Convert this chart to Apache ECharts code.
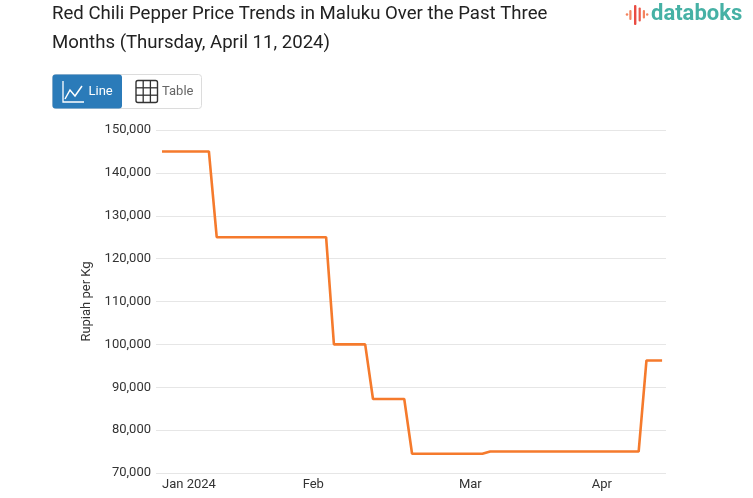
<!DOCTYPE html>
<html>
<head>
<meta charset="utf-8">
<script src="https://cdn.jsdelivr.net/npm/echarts@6/dist/echarts.min.js"></script>
<style>
html,body{margin:0;padding:0;background:#fff;}
#chart{width:753px;height:498px;}
</style>
</head>
<body>
<div id="chart"></div>
<script>
// ---- Data ----
const dates = [
  '2024-01-02','2024-01-03','2024-01-04','2024-01-05','2024-01-08','2024-01-09','2024-01-10','2024-01-12','2024-01-15','2024-01-16',
  '2024-01-17','2024-01-18','2024-01-19','2024-01-22','2024-01-23','2024-01-25','2024-01-26','2024-01-29',
  '2024-02-01','2024-02-02','2024-02-05','2024-02-06','2024-02-07','2024-02-08','2024-02-09','2024-02-12','2024-02-13','2024-02-15',
  '2024-02-16','2024-02-19','2024-02-20','2024-02-21','2024-02-22','2024-02-23','2024-02-26','2024-02-27','2024-02-28','2024-02-29',
  '2024-03-01','2024-03-04','2024-03-05','2024-03-06','2024-03-07','2024-03-08','2024-03-13','2024-03-14','2024-03-15','2024-03-18',
  '2024-03-19','2024-03-20','2024-03-21','2024-03-22','2024-03-25','2024-03-26','2024-03-27',
  '2024-04-01','2024-04-02','2024-04-03','2024-04-04','2024-04-05','2024-04-06','2024-04-07','2024-04-08','2024-04-10','2024-04-11'
];
const prices = [
  145000,145000,145000,145000,145000,145000,145000,
  125000,125000,125000,125000,125000,125000,125000,125000,125000,125000,125000,125000,125000,125000,125000,
  100000,100000,100000,100000,100000,
  87250,87250,87250,87250,87250,
  74500,74500,74500,74500,74500,74500,74500,74500,74500,74500,
  75000,75000,75000,75000,75000,75000,75000,75000,75000,75000,75000,75000,75000,75000,75000,75000,75000,75000,75000,75000,
  96250,96250,96250
];
const monthNames = ['Jan','Feb','Mar','Apr','May','Jun','Jul','Aug','Sep','Oct','Nov','Dec'];
const yMin = 70000, yMax = 150000, yStep = 10000;
const titleText = 'Red Chili Pepper Price Trends in Maluku Over the Past Three\nMonths (Thursday, April 11, 2024)';
const yAxisName = 'Rupiah per Kg';

// first index of each month -> axis label
const monthStarts = [];
dates.forEach((d, i) => {
  if (i === 0 || d.slice(0, 7) !== dates[i - 1].slice(0, 7)) monthStarts.push(i);
});
function monthLabel(i) {
  const d = dates[i];
  const m = monthNames[parseInt(d.slice(5, 7), 10) - 1];
  return i === 0 ? m + ' ' + d.slice(0, 4) : m;
}
const seriesData = prices.map((v, i) => [i, v]);

const FONT = 'Roboto, "Noto Sans", sans-serif';
const chart = echarts.init(document.getElementById('chart'), null, {renderer: 'canvas'});
chart.setOption({
  animation: false,
  backgroundColor: '#fff',
  textStyle: {fontFamily: FONT},
  title: {
    text: titleText,
    left: 52, top: 0, padding: 0,
    textStyle: {fontFamily: FONT, fontSize: 18.6, fontWeight: 'normal', color: '#222', lineHeight: 29}
  },
  grid: {left: 156, right: 87, top: 130, bottom: 25, containLabel: false},
  xAxis: {
    type: 'value',
    min: -0.77, max: 64.5,
    splitLine: {show: false},
    axisLine: {show: false},
    axisTick: {show: false},
    axisLabel: {
      customValues: monthStarts,
      formatter: v => monthLabel(Math.round(v)),
      align: 'left',
      margin: 5,
      fontSize: 13,
      color: '#333',
      fontFamily: FONT
    }
  },
  yAxis: {
    type: 'value',
    min: yMin, max: yMax, interval: yStep,
    name: yAxisName,
    nameLocation: 'middle',
    nameGap: 62,
    nameTextStyle: {fontSize: 13, color: '#333', fontFamily: FONT},
    axisLine: {show: false},
    axisTick: {show: false},
    splitLine: {lineStyle: {color: '#e6e6e6', width: 1}},
    axisLabel: {
      formatter: v => v.toLocaleString('en-US'),
      fontSize: 13, color: '#333', margin: 5, fontFamily: FONT
    }
  },
  series: [{
    type: 'line',
    data: seriesData,
    showSymbol: false,
    lineStyle: {color: '#f57a2c', width: 2.6},
    itemStyle: {color: '#f57a2c'}
  }],
  graphic: [
    // logo icon
    {type: 'circle', shape: {cx: 627, cy: 14.5, r: 1.3}, style: {fill: '#f4845f'}},
    {type: 'rect', shape: {x: 629.3, y: 10, width: 2.2, height: 10, r: 1}, style: {fill: '#f4845f'}},
    {type: 'rect', shape: {x: 634, y: 5, width: 2.4, height: 20, r: 1}, style: {fill: '#e94b42'}},
    {type: 'rect', shape: {x: 638.6, y: 7.5, width: 2.2, height: 14, r: 1}, style: {fill: '#ec5a4a'}},
    {type: 'rect', shape: {x: 642.8, y: 10, width: 2.2, height: 8.5, r: 1}, style: {fill: '#f4845f'}},
    {type: 'circle', shape: {cx: 647.2, cy: 14.5, r: 1.2}, style: {fill: '#f4845f'}},
    {type: 'text', x: 651, y: 3, style: {text: 'databoks', fontSize: 22, fontWeight: 'bold', fill: '#46b1a5', fontFamily: FONT}},
    // buttons
    {type: 'rect', shape: {x: 52.5, y: 74.5, width: 149, height: 34, r: 3}, style: {fill: '#fff', stroke: '#dcdcdc', lineWidth: 1}},
    {type: 'rect', shape: {x: 52.5, y: 74.5, width: 69.5, height: 34, r: 3}, style: {fill: '#2b7bb9'}},
    {type: 'polyline', shape: {points: [[63, 81], [63, 102], [84, 102]]}, style: {stroke: '#fff', lineWidth: 1.3, fill: null}},
    {type: 'polyline', shape: {points: [[65, 99], [70, 90], [75, 96], [82, 86]]}, style: {stroke: '#fff', lineWidth: 1.5, fill: null}},
    {type: 'text', x: 88.5, y: 91.5, style: {text: 'Line', fontSize: 13, fill: '#fff', fontFamily: FONT, verticalAlign: 'middle'}},
    {type: 'rect', shape: {x: 136, y: 80.5, width: 21.5, height: 22, r: 2}, style: {fill: null, stroke: '#333', lineWidth: 1.4}},
    {type: 'line', shape: {x1: 143.2, y1: 80.5, x2: 143.2, y2: 102.5}, style: {stroke: '#333', lineWidth: 1.3}},
    {type: 'line', shape: {x1: 150.4, y1: 80.5, x2: 150.4, y2: 102.5}, style: {stroke: '#333', lineWidth: 1.3}},
    {type: 'line', shape: {x1: 136, y1: 87.8, x2: 157.5, y2: 87.8}, style: {stroke: '#333', lineWidth: 1.3}},
    {type: 'line', shape: {x1: 136, y1: 95.2, x2: 157.5, y2: 95.2}, style: {stroke: '#333', lineWidth: 1.3}},
    {type: 'text', x: 162, y: 91.5, style: {text: 'Table', fontSize: 13, fill: '#666', fontFamily: FONT, verticalAlign: 'middle'}}
  ]
});
</script>
</body>
</html>
